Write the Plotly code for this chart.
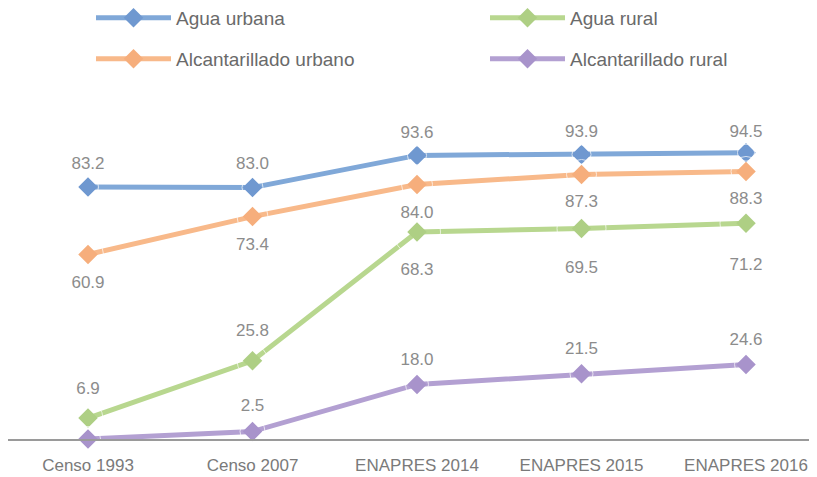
import plotly.graph_objects as go

categories = ["Censo 1993", "Censo 2007", "ENAPRES 2014", "ENAPRES 2015", "ENAPRES 2016"]
agua_urbana = [83.2, 83.0, 93.6, 93.9, 94.5]
alcant_urbano = [60.9, 73.4, 84.0, 87.3, 88.3]
agua_rural = [6.9, 25.8, 68.3, 69.5, 71.2]
alcant_rural = [0.0, 2.5, 18.0, 21.5, 24.6]

label_agua_urbana = ["83.2", "83.0", "93.6", "93.9", "94.5"]
label_alcant_urbano = ["60.9", "73.4", "84.0", "87.3", "88.3"]
label_agua_rural = ["6.9", "25.8", "68.3", "69.5", "71.2"]
label_alcant_rural = ["", "2.5", "18.0", "21.5", "24.6"]

# page body has an 8px margin, so the figure is drawn at offset (8, 8)
OFF = 8
W, H = 817 - OFF, 477 - OFF
L, R, T, B = 0, 0, 100 - OFF, 477 - 439
ph = H - T - B
STEP = 164.5
X0 = 88 - OFF

fig = go.Figure()

def add(name, y, text, color, mcolor, tpos, gap, legend):
    fig.add_trace(go.Scatter(
        x=categories, y=y, name=name, mode="lines+markers",
        line=dict(color=color, width=5),
        marker=dict(symbol="diamond", size=15, color=mcolor),
        cliponaxis=False, legend=legend,
    ))
    # labels: an invisible marker of chosen size sets the label offset
    fig.add_trace(go.Scatter(
        x=categories, y=y, mode="markers+text", showlegend=False, hoverinfo="skip",
        text=text, textposition=tpos,
        textfont=dict(size=17, color="#8c8c8c", family="Liberation Sans"),
        marker=dict(size=gap, color="rgba(0,0,0,0)"),
        cliponaxis=False,
    ))

add("Agua urbana", agua_urbana, label_agua_urbana, "#80a8d8", "#6f98d0",
    "top center", [21, 21, 19, 19, 17], "legend")
add("Agua rural", agua_rural, label_agua_rural, "#b8d78f", "#aecf84",
    ["top center", "top center", "bottom center", "bottom center", "bottom center"],
    [30, 31, 47, 49, 52], "legend2")
add("Alcantarillado urbano", alcant_urbano, label_alcant_urbano, "#f8b98a", "#f6ae7c",
    "bottom center", [31, 31, 31, 30, 30], "legend3")
add("Alcantarillado rural", alcant_rural, label_alcant_rural, "#b3a0d2", "#a893cb",
    "top center", [25, 25, 23, 23, 23], "legend4")

def py(p):
    return (H - B - (p - OFF)) / ph

def px(p):
    return (p - OFF) / W

legend_common = dict(
    orientation="h", xanchor="left", yanchor="middle",
    font=dict(size=19, color="#6a6a6a", family="Liberation Sans"),
    bgcolor="rgba(0,0,0,0)", itemwidth=75,
)

fig.update_layout(
    width=W, height=H,
    margin=dict(l=L, r=R, t=T, b=B, autoexpand=False),
    paper_bgcolor="white", plot_bgcolor="white",
    showlegend=True,
    legend=dict(x=px(91), y=py(18), **legend_common),
    legend2=dict(x=px(485), y=py(18), **legend_common),
    legend3=dict(x=px(91), y=py(59), **legend_common),
    legend4=dict(x=px(485), y=py(59), **legend_common),
    xaxis=dict(
        type="category",
        range=[-X0 / STEP, (W - X0) / STEP],
        showgrid=False, zeroline=False,
        showline=True, linecolor="#9a9a9a", linewidth=2,
        ticks="", ticklabelstandoff=10,
        tickfont=dict(size=17, color="#7a7a7a", family="Liberation Sans"),
    ),
    yaxis=dict(range=[0, ph / 3.03], visible=False, showgrid=False, zeroline=False),
)

fig.write_html("out.html")
